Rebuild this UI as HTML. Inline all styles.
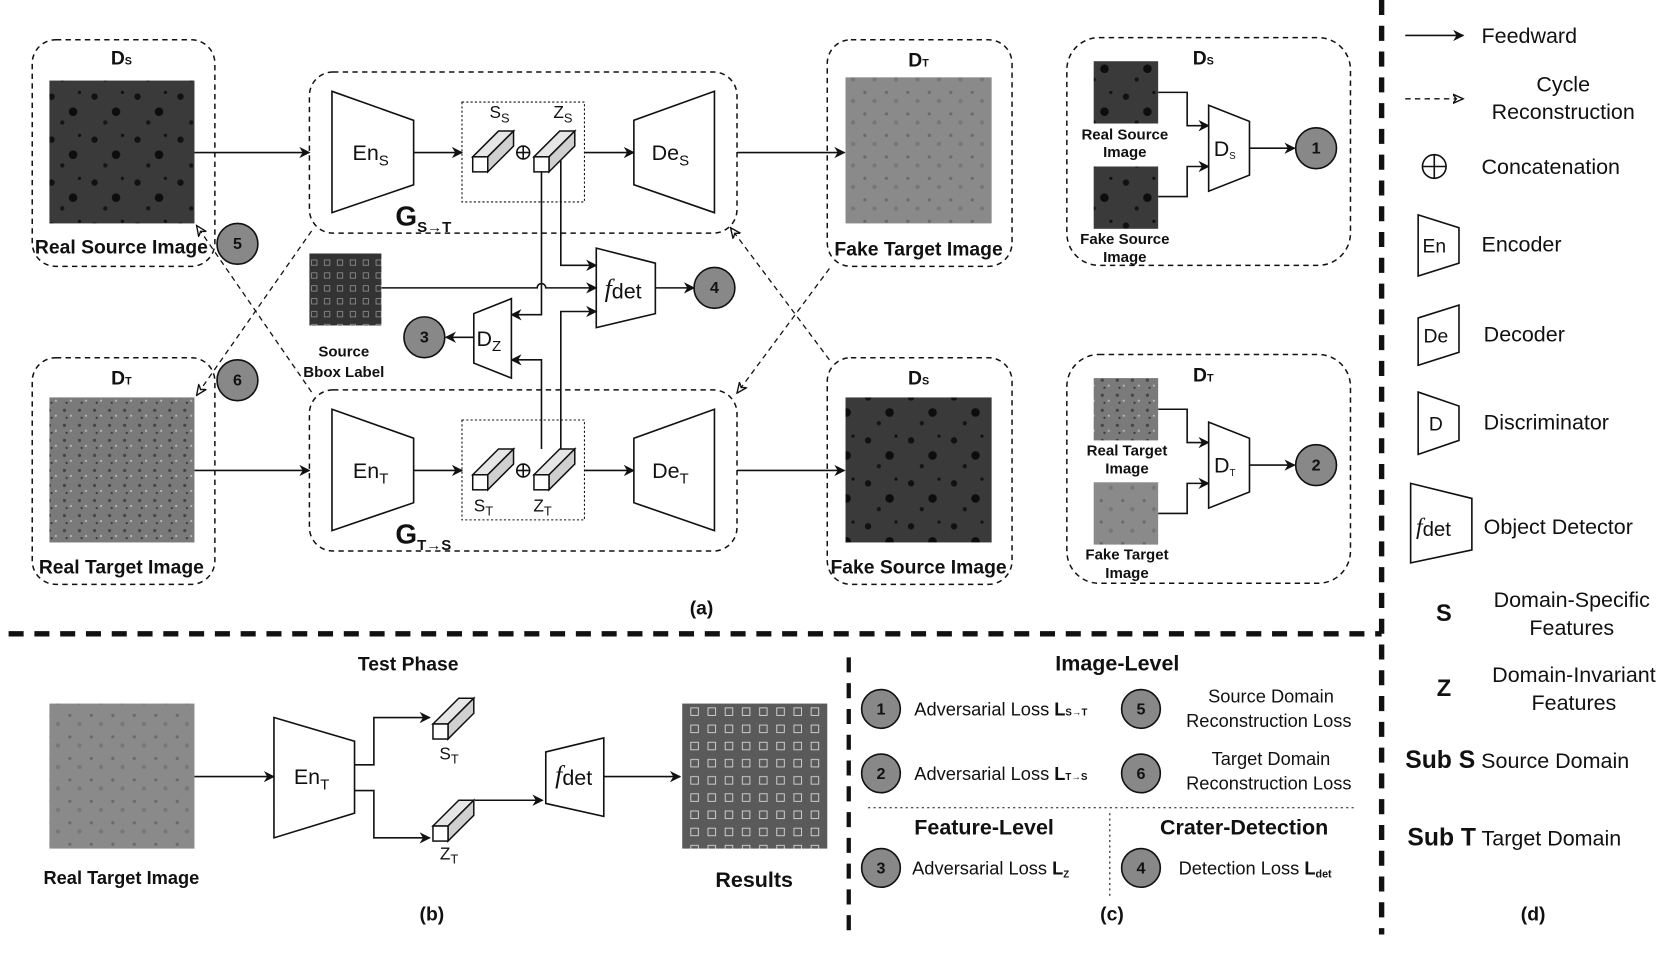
<!DOCTYPE html>
<html><head><meta charset="utf-8"><style>
html,body{margin:0;padding:0;background:#fff}
svg{display:block}
text{font-family:"Liberation Sans",sans-serif;fill:#111}
.b{font-weight:bold}
</style></head><body>
<svg width="1676" height="956" viewBox="0 0 1560 890" preserveAspectRatio="none" xmlns="http://www.w3.org/2000/svg">
<defs>
<marker id="ar" viewBox="0 0 10 10" refX="9" refY="5" markerWidth="7" markerHeight="7" orient="auto"><path d="M0,0 L10,5 L0,10 L3,5 z" fill="#111"/></marker>
<marker id="ho" viewBox="0 0 10 10" refX="9" refY="5" markerWidth="9" markerHeight="9" orient="auto"><path d="M0,1 L9,5 L0,9 L3,5 z" fill="#fff" stroke="#111" stroke-width="1.2"/></marker>
<pattern id="src" width="40" height="40" patternUnits="userSpaceOnUse"><rect width="40" height="40" fill="#3a3a3a"/><circle cx="8" cy="10" r="3" fill="#111"/><circle cx="28" cy="24" r="4" fill="#0d0d0d"/><circle cx="18" cy="34" r="2" fill="#151515"/><circle cx="34" cy="6" r="1.5" fill="#111"/></pattern>
<pattern id="tgt" width="14" height="14" patternUnits="userSpaceOnUse"><rect width="14" height="14" fill="#7a7a7a"/><circle cx="4" cy="4" r="1.5" fill="#444"/><circle cx="10" cy="9" r="1" fill="#bbb"/><circle cx="6" cy="11" r="1" fill="#333"/></pattern>
<pattern id="tgt2" width="20" height="20" patternUnits="userSpaceOnUse"><rect width="20" height="20" fill="#8a8a8a"/><circle cx="5" cy="6" r="1.5" fill="#6a6a6a"/><circle cx="14" cy="14" r="2" fill="#777"/></pattern>
<pattern id="res" width="16" height="16" patternUnits="userSpaceOnUse"><rect width="16" height="16" fill="#5a5a5a"/><rect x="3" y="3" width="7" height="7" fill="none" stroke="#ddd" stroke-width="0.8"/></pattern>
<pattern id="bb" width="12" height="12" patternUnits="userSpaceOnUse"><rect width="12" height="12" fill="#333"/><rect x="2" y="2" width="5" height="5" fill="none" stroke="#aaa" stroke-width="0.6"/></pattern>
<g id="cube" stroke="#111" stroke-width="1.4" fill="#e6e6e6"><path d="M0,24 L24,0 L38,0 L14,24 Z"/><path d="M14,24 L38,0 L38,14 L14,38 Z" fill="#cfcfcf"/><rect x="0" y="24" width="14" height="14" fill="#fff"/></g>
</defs>
<g fill="none" stroke="#111" stroke-width="1.5">
<g stroke-dasharray="5,4" stroke-width="1.4">
<rect x="30" y="37" width="170" height="211" rx="22"/>
<rect x="30" y="333" width="170" height="211" rx="22"/>
<rect x="770" y="37" width="172" height="211" rx="22"/>
<rect x="770" y="333" width="172" height="211" rx="22"/>
<rect x="288" y="67" width="398" height="150" rx="22"/>
<rect x="288" y="363" width="398" height="150" rx="22"/>
<rect x="993" y="35" width="264" height="212" rx="30"/>
<rect x="993" y="330" width="264" height="213" rx="30"/>
</g>
<g stroke-dasharray="2,2" stroke-width="1"><rect x="430" y="95" width="114" height="93"/><rect x="430" y="391" width="114" height="93"/></g>
<path d="M309,85 L385,112 L385,172 L309,198 Z"/><path d="M590,112 L665,85 L665,198 L590,172 Z"/>
<path d="M309,381 L385,408 L385,468 L309,494 Z"/><path d="M590,408 L665,381 L665,494 L590,468 Z"/>
<path d="M555,231 L610,245 L610,292 L555,305 Z"/>
<path d="M441,292 L476,278 L476,352 L441,338 Z"/>
<path d="M1125,98 L1163,113 L1163,163 L1125,178 Z"/>
<path d="M1125,393 L1163,408 L1163,458 L1125,473 Z"/>
<path d="M255,668 L330,690 L330,757 L255,780 Z"/>
<path d="M508,700 L562,687 L562,760 L508,748 Z"/>
<g marker-end="url(#ar)">
<line x1="181" y1="142" x2="288" y2="142"/><line x1="385" y1="142" x2="430" y2="142"/><line x1="544" y1="142" x2="590" y2="142"/><line x1="686" y1="142" x2="786" y2="142"/>
<line x1="181" y1="438" x2="288" y2="438"/><line x1="385" y1="438" x2="430" y2="438"/><line x1="544" y1="438" x2="590" y2="438"/><line x1="686" y1="438" x2="786" y2="438"/>
<path d="M355,268 L500,268 A4,4 0 0 1 508,268 L555,268"/>
<path d="M522,148 L522,247 L555,247"/><path d="M522,428 L522,290 L555,290"/>
<path d="M504,160 L504,293 L476,293"/><path d="M504,418 L504,335 L476,335"/>
<line x1="610" y1="268" x2="646" y2="268"/><line x1="441" y1="314" x2="415" y2="314"/>
<path d="M1078,86 L1105,86 L1105,117 L1125,117"/><path d="M1078,183 L1105,183 L1105,155 L1125,155"/>
<line x1="1163" y1="138" x2="1205" y2="138"/>
<path d="M1078,381 L1105,381 L1105,412 L1125,412"/><path d="M1078,478 L1105,478 L1105,450 L1125,450"/>
<line x1="1163" y1="433" x2="1205" y2="433"/>
<line x1="181" y1="723" x2="255" y2="723"/>
<path d="M330,712 L348,712 L348,668 L400,668"/><path d="M330,736 L348,736 L348,780 L400,780"/>
<line x1="442" y1="745" x2="505" y2="745"/><line x1="562" y1="723" x2="633" y2="723"/>
<line x1="1308" y1="33" x2="1362" y2="33"/>
</g>
<g stroke-dasharray="5,4" stroke-width="1.2" marker-end="url(#ho)">
<line x1="290" y1="365" x2="183" y2="210"/><line x1="290" y1="215" x2="183" y2="368"/>
<line x1="772" y1="250" x2="686" y2="366"/><line x1="772" y1="335" x2="680" y2="212"/>
<line x1="1308" y1="92" x2="1362" y2="92"/>
</g>
<g stroke-width="5" stroke-dasharray="14,10"><line x1="8" y1="590" x2="1286" y2="590"/><line x1="1286" y1="0" x2="1286" y2="870"/></g>
<line x1="790" y1="612" x2="790" y2="870" stroke-width="4" stroke-dasharray="14,10"/>
<g stroke-dasharray="2,3" stroke-width="1"><line x1="808" y1="752" x2="1260" y2="752"/><line x1="1033" y1="757" x2="1033" y2="835"/></g>
<circle cx="1335" cy="155" r="11"/><line x1="1324" y1="155" x2="1346" y2="155"/><line x1="1335" y1="144" x2="1335" y2="166"/>
<path d="M1320,200 L1358,212 L1358,245 L1320,257 Z"/><path d="M1320,296 L1358,284 L1358,328 L1320,340 Z"/>
<path d="M1320,365 L1358,378 L1358,410 L1320,423 Z"/><path d="M1313,450 L1370,464 L1370,512 L1313,524 Z"/>
<circle cx="487" cy="142" r="6"/><line x1="481" y1="142" x2="493" y2="142"/><line x1="487" y1="136" x2="487" y2="148"/>
<circle cx="487" cy="438" r="6"/><line x1="481" y1="438" x2="493" y2="438"/><line x1="487" y1="432" x2="487" y2="444"/>
</g>
<use href="#cube" x="440" y="122"/><use href="#cube" x="497" y="122"/>
<use href="#cube" x="440" y="418"/><use href="#cube" x="497" y="418"/>
<use href="#cube" x="403" y="650"/><use href="#cube" x="403" y="745"/>
<rect x="46" y="75" width="135" height="133" fill="url(#src)"/>
<rect x="787" y="72" width="136" height="136" fill="url(#tgt2)"/>
<rect x="46" y="370" width="135" height="135" fill="url(#tgt)"/>
<rect x="787" y="370" width="136" height="135" fill="url(#src)"/>
<rect x="288" y="236" width="67" height="67" fill="url(#bb)"/>
<rect x="1018" y="57" width="60" height="58" fill="url(#src)"/><rect x="1018" y="155" width="60" height="58" fill="url(#src)"/>
<rect x="1018" y="352" width="60" height="58" fill="url(#tgt)"/><rect x="1018" y="449" width="60" height="58" fill="url(#tgt2)"/>
<rect x="46" y="655" width="135" height="135" fill="url(#tgt2)"/>
<rect x="635" y="655" width="135" height="135" fill="url(#res)"/>
<g fill="#888" stroke="#111" stroke-width="1.5">
<circle cx="221" cy="227" r="19"/><circle cx="221" cy="354" r="19"/><circle cx="665" cy="268" r="19"/><circle cx="395" cy="314" r="19"/>
<circle cx="1225" cy="138" r="19"/><circle cx="1225" cy="433" r="19"/>
<circle cx="820" cy="660" r="18"/><circle cx="1062" cy="660" r="18"/><circle cx="820" cy="720" r="18"/><circle cx="1062" cy="720" r="18"/><circle cx="820" cy="808" r="18"/><circle cx="1062" cy="808" r="18"/>
</g>
<g class="b" font-size="15" text-anchor="middle">
<text x="221" y="232">5</text><text x="221" y="359">6</text><text x="665" y="273">4</text><text x="395" y="319">3</text><text x="1225" y="143">1</text><text x="1225" y="438">2</text>
<text x="820" y="665">1</text><text x="1062" y="665">5</text><text x="820" y="725">2</text><text x="1062" y="725">6</text><text x="820" y="813">3</text><text x="1062" y="813">4</text>
</g>
<g text-anchor="middle" class="b" font-size="18">
<text x="113" y="60">D<tspan font-size="10">S</tspan></text><text x="113" y="358">D<tspan font-size="10">T</tspan></text>
<text x="855" y="62">D<tspan font-size="10">T</tspan></text><text x="855" y="358">D<tspan font-size="10">S</tspan></text>
<text x="1120" y="60">D<tspan font-size="10">S</tspan></text><text x="1120" y="355">D<tspan font-size="10">T</tspan></text>
<text x="113" y="236">Real Source Image</text><text x="855" y="238">Fake Target Image</text>
<text x="113" y="534">Real Target Image</text><text x="855" y="534">Fake Source Image</text>
<text x="653" y="572">(a)</text>
<text x="380" y="624">Test Phase</text><text x="113" y="823" font-size="17">Real Target Image</text><text x="702" y="826" font-size="20">Results</text>
<text x="402" y="857">(b)</text><text x="1035" y="857">(c)</text><text x="1427" y="857">(d)</text>
<text x="1040" y="624" font-size="20">Image-Level</text><text x="916" y="777" font-size="20">Feature-Level</text><text x="1158" y="777" font-size="20">Crater-Detection</text>
</g>
<g text-anchor="middle" class="b" font-size="14">
<text x="320" y="332">Source</text><text x="320" y="351">Bbox Label</text>
<text x="1047" y="130">Real Source</text><text x="1047" y="146">Image</text>
<text x="1047" y="227">Fake Source</text><text x="1047" y="244">Image</text>
<text x="1049" y="424">Real Target</text><text x="1049" y="441">Image</text>
<text x="1049" y="521">Fake Target</text><text x="1049" y="538">Image</text>
</g>
<g font-size="20" text-anchor="middle">
<text x="345" y="149">En<tspan font-size="14" dy="5">S</tspan></text><text x="624" y="149">De<tspan font-size="14" dy="5">S</tspan></text>
<text x="345" y="445">En<tspan font-size="14" dy="5">T</tspan></text><text x="624" y="445">De<tspan font-size="14" dy="5">T</tspan></text>
<text x="290" y="730">En<tspan font-size="14" dy="5">T</tspan></text>
<text x="580" y="276" font-size="24"><tspan font-style="italic" font-family="Liberation Serif">f</tspan><tspan font-size="20" dy="2">det</tspan></text>
<text x="534" y="729" font-size="24"><tspan font-style="italic" font-family="Liberation Serif">f</tspan><tspan font-size="20" dy="2">det</tspan></text>
<text x="455" y="322">D<tspan font-size="14" dy="5">Z</tspan></text>
<text x="1140" y="145">D<tspan font-size="9" dy="3">S</tspan></text><text x="1140" y="440">D<tspan font-size="9" dy="3">T</tspan></text>
<text x="465" y="110" font-size="16">S<tspan font-size="12" dy="4">S</tspan></text><text x="524" y="110" font-size="16">Z<tspan font-size="12" dy="4">S</tspan></text>
<text x="450" y="476" font-size="16">S<tspan font-size="12" dy="4">T</tspan></text><text x="505" y="476" font-size="16">Z<tspan font-size="12" dy="4">T</tspan></text>
<text x="418" y="707" font-size="16">S<tspan font-size="12" dy="4">T</tspan></text><text x="418" y="800" font-size="16">Z<tspan font-size="12" dy="4">T</tspan></text>
</g>
<text x="368" y="210" class="b" font-size="26">G<tspan font-size="14" dy="6">S→T</tspan></text>
<text x="368" y="506" class="b" font-size="26">G<tspan font-size="14" dy="6">T→S</tspan></text>
<g font-size="17" fill="#222">
<text x="851" y="666">Adversarial Loss <tspan class="b">L</tspan><tspan font-size="9" class="b">S→T</tspan></text>
<text x="851" y="726">Adversarial Loss <tspan class="b">L</tspan><tspan font-size="9" class="b">T→S</tspan></text>
<text x="849" y="814">Adversarial Loss <tspan class="b">L</tspan><tspan font-size="9" class="b" dy="3">Z</tspan></text>
<text x="1097" y="814">Detection Loss <tspan class="b">L</tspan><tspan font-size="10" class="b" dy="3">det</tspan></text>
<g text-anchor="middle"><text x="1183" y="654">Source Domain</text><text x="1181" y="677">Reconstruction Loss</text>
<text x="1183" y="712">Target Domain</text><text x="1181" y="735">Reconstruction Loss</text></g>
</g>
<g font-size="20" fill="#222">
<text x="1379" y="40">Feedward</text>
<text x="1455" y="85" text-anchor="middle">Cycle</text><text x="1455" y="111" text-anchor="middle">Reconstruction</text>
<text x="1379" y="162">Concatenation</text>
<text x="1324" y="235" font-size="18">En</text><text x="1379" y="234">Encoder</text>
<text x="1325" y="319" font-size="18">De</text><text x="1381" y="318">Decoder</text>
<text x="1330" y="401" font-size="18">D</text><text x="1381" y="400">Discriminator</text>
<text x="1318" y="497" font-size="22"><tspan font-style="italic" font-family="Liberation Serif">f</tspan><tspan font-size="19" dy="2">det</tspan></text><text x="1381" y="497">Object Detector</text>
<text x="1344" y="578" class="b" font-size="22" text-anchor="middle">S</text>
<text x="1463" y="565" text-anchor="middle">Domain-Specific</text><text x="1463" y="591" text-anchor="middle">Features</text>
<text x="1344" y="648" class="b" font-size="22" text-anchor="middle">Z</text>
<text x="1465" y="635" text-anchor="middle">Domain-Invariant</text><text x="1465" y="661" text-anchor="middle">Features</text>
<text x="1308" y="715"><tspan class="b" font-size="23">Sub S</tspan> Source Domain</text>
<text x="1310" y="787"><tspan class="b" font-size="23">Sub T</tspan> Target Domain</text>
</g>
</svg>
</body></html>
